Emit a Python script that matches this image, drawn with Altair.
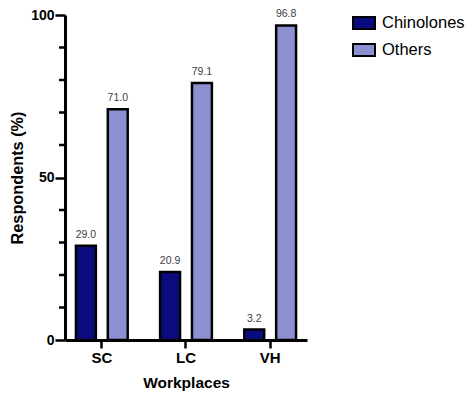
import altair as alt
import pandas as pd

workplaces = ["SC", "LC", "VH"]
groups = ["Chinolones", "Others"]
chinolones = [29.0, 20.9, 3.2]
others = [71.0, 79.1, 96.8]
major_ticks = [0, 50, 100]
minor_ticks = [10, 20, 30, 40, 60, 70, 80, 90]

rows = []
for i, w in enumerate(workplaces):
    rows.append({"Workplace": w, "Group": "Chinolones", "Value": chinolones[i]})
    rows.append({"Workplace": w, "Group": "Others", "Value": others[i]})
df = pd.DataFrame(rows)
minor_df = pd.DataFrame({"Value": minor_ticks})

FONT = "Liberation Sans"

x = alt.X(
    "Workplace:N",
    sort=workplaces,
    scale=alt.Scale(paddingInner=0.385, paddingOuter=0.13),
    axis=alt.Axis(
        title="Workplaces",
        labelAngle=0,
        labelFont=FONT,
        labelFontSize=15,
        labelFontWeight="bold",
        labelColor="#000",
        labelPadding=2,
        titleFont=FONT,
        titleFontSize=15.5,
        titleFontWeight="bold",
        titleColor="#000",
        titlePadding=10,
        domainColor="#000",
        domainWidth=3,
        ticks=True,
        bandPosition=0.5,
        tickColor="#000",
        tickOpacity=1,
        tickWidth=2.5,
        tickSize=8,
        grid=False,
    ),
)
xoff = alt.XOffset("Group:N", sort=groups, scale=alt.Scale(paddingInner=0.375, paddingOuter=0))
y = alt.Y(
    "Value:Q",
    scale=alt.Scale(domain=[0, 100], nice=False),
    axis=alt.Axis(
        title="Respondents (%)",
        values=major_ticks,
        labelOverlap=False,
        labelFont=FONT,
        labelFontSize=14,
        labelFontWeight="bold",
        labelColor="#000",
        labelPadding=1,
        titleFont=FONT,
        titleFontSize=16.3,
        titleFontWeight="bold",
        titleColor="#000",
        titlePadding=5,
        domainColor="#000",
        domainWidth=3,
        ticks=True,
        tickColor="#000",
        tickOpacity=1,
        tickWidth=2.5,
        tickSize=10,
        grid=False,
    ),
)

color = alt.Color(
    "Group:N",
    sort=groups,
    scale=alt.Scale(domain=groups, range=["#0b0b80", "#8b90d0"]),
    legend=alt.Legend(
        title=None,
        orient="none",
        legendX=287,
        legendY=-4,
        symbolType="M-1,-0.55H1V0.55H-1Z",
        symbolSize=484,
        symbolStrokeColor="#000",
        symbolStrokeWidth=2,
        symbolOpacity=1,
        labelFont=FONT,
        labelFontSize=16.5,
        labelColor="#000",
        labelOffset=6,
        rowPadding=4,
    ),
)

bars = alt.Chart(df).mark_bar(stroke="#000", strokeWidth=2.5, opacity=1).encode(
    x=x, xOffset=xoff, y=y, color=color
)
labels = alt.Chart(df).mark_text(
    dy=-11, font=FONT, fontSize=10.5, color="#404040"
).encode(
    x=alt.X("Workplace:N", sort=workplaces),
    xOffset=alt.XOffset("Group:N", sort=groups),
    y="Value:Q",
    text=alt.Text("Value:Q", format=".1f"),
)
minor = alt.Chart(minor_df).mark_rule(color="#000", strokeWidth=2.5).encode(
    y="Value:Q",
    x=alt.value(-6),
    x2=alt.value(0),
)

chart = (
    alt.layer(bars, labels, minor)
    .properties(
        width=242,
        height=325,
        autosize=alt.AutoSizeParams(type="none"),
        padding={"left": 57, "top": 7, "right": 159, "bottom": 54},
        background="white",
    )
    .configure_view(stroke=None)
)

chart.save("out.html", embed_options={"renderer": "svg", "actions": False})
